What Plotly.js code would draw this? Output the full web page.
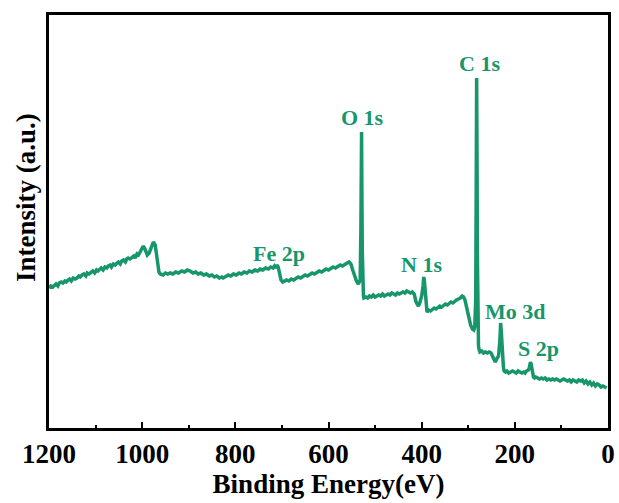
<!DOCTYPE html>
<html>
<head>
<meta charset="utf-8">
<script src="https://cdn.plot.ly/plotly-3.0.1.min.js"></script>
<style>
  html, body { margin: 0; padding: 0; background: #ffffff; }
  #chart { width: 619px; height: 503px; }
</style>
</head>
<body>
<div id="chart"></div>
<script>
// XPS survey spectrum: binding energy (eV) vs. intensity (a.u.)
const bindingEnergy = [
  1200, 1196, 1192, 1188, 1185, 1181, 1178, 1174, 1170, 1166, 1163, 1159, 1156, 1152, 1148, 1144,
  1140, 1136, 1133, 1129, 1125, 1121, 1118, 1114, 1110, 1106, 1102, 1098, 1095, 1091, 1088, 1084,
  1080, 1076, 1073, 1069, 1066, 1062, 1058, 1054, 1051, 1047, 1044, 1040, 1036, 1033, 1030, 1026,
  1022, 1018, 1015, 1011, 1008, 1005, 1001, 997.5, 994, 989, 985, 981, 976, 972, 968, 964, 961,
  955, 950, 945, 940, 934, 928, 922, 915, 909, 903, 897, 891, 885, 880, 874, 868, 862, 856, 850,
  845, 840, 834, 829, 826, 820, 815, 810, 804, 798, 792, 787, 781, 775, 770, 764, 758, 752, 747,
  741, 735, 729, 724, 719, 716, 713, 711, 708, 705, 702, 698, 694, 690, 685, 680, 675, 670, 665,
  660, 655, 650, 645, 640, 635, 630, 625, 620, 615, 610, 605, 600, 595, 590, 585, 580, 575, 570,
  565, 560, 556, 552, 548, 544, 540, 536, 532, 530.5, 529.5, 529, 528.5, 527.5, 526.5, 525,
  524, 520, 516, 512, 508, 504, 500, 496, 492, 488, 484, 480, 476, 472, 468, 464, 460, 456, 452,
  448, 444, 440, 436, 432, 428, 424, 420, 416, 412, 407, 404, 400, 397, 395.5, 394, 392, 390, 388.5,
  386.5, 385, 381, 377, 373, 369, 365, 361, 357, 353, 349, 345, 341, 337, 333, 329, 325, 321, 317,
  313, 310, 307, 304, 301, 298, 295, 291, 288, 286, 284, 283, 282.5, 282, 281.5, 281, 280.5, 279.5,
  278, 276.5, 275, 271, 267, 263, 259, 255, 251, 248, 245, 242, 239, 235, 232, 230.5, 229, 227.5,
  226, 224.5, 223, 220, 217, 213, 209, 205, 201, 197, 193, 189, 185, 181, 178, 175, 171, 169, 166.5,
  165, 163.5, 162, 160, 157.5, 155, 151, 147, 143, 139, 135, 131, 127, 123, 119, 115, 111, 107, 103,
  99, 95, 91, 87, 83, 79, 75, 71, 67, 63, 59, 55, 51, 47, 43, 39, 35, 31, 27, 23, 19, 15, 11, 7, 3, 0
];
const intensity = [
  142, 144, 143, 145, 146, 144, 147, 148, 147, 149, 148, 150, 151, 149, 152, 151,
  152, 154, 153, 155, 156, 154, 157, 156, 158, 159, 157, 160, 159, 161, 162, 160,
  163, 162, 164, 165, 163, 166, 165, 167, 168, 166, 169, 170, 168, 171, 172, 171,
  173, 174, 172, 176, 175, 178, 180, 184, 181, 175, 177, 183, 188, 185, 170, 158, 156,
  155, 157, 156, 157, 156, 158, 157, 159, 158, 160, 159, 157, 158, 156, 157, 155, 156, 154, 155,
  153, 154, 152, 153, 152, 154, 155, 154, 156, 155, 157, 156, 158, 157, 159, 158, 160, 159, 161,
  160, 162, 161, 163, 162, 164, 162, 165, 163, 158, 150, 148, 149, 150, 149, 151, 150, 152, 153,
  152, 154, 155, 154, 156, 157, 156, 158, 159, 158, 160, 161, 160, 162, 163, 162, 164, 165, 164,
  166, 167, 168, 166, 160, 154, 149, 146, 150, 200, 270, 298, 250, 180, 142, 134,
  132, 133, 132, 134, 133, 135, 133, 134, 135, 134, 136, 134, 135, 136, 135, 137, 136, 135, 137,
  136, 137, 138, 137, 139, 138, 137, 138, 136, 128, 124, 127, 134, 144, 153, 148, 132, 121, 118,
  119, 120, 119, 121, 122, 121, 123, 124, 123, 125, 126, 125, 127, 128, 127, 129, 130, 131, 132,
  134, 133, 130, 124, 117, 110, 105, 101, 100, 103, 130, 230, 310, 352, 330, 260, 180, 120,
  84, 80, 78, 79, 77, 78, 77, 78, 77, 74, 71, 68, 71, 74, 90, 107, 98, 82,
  70, 63, 59, 58, 59, 57, 58, 59, 58, 57, 59, 58, 57, 58, 57, 59, 60, 62, 68,
  66, 61, 56, 53, 52, 53, 52, 51, 52, 51, 52, 50, 51, 50, 51, 50, 51, 50, 49,
  50, 51, 50, 49, 50, 48, 50, 49, 48, 50, 49, 50, 47, 49, 46, 48, 45, 47, 44, 46, 45, 43, 44, 43, 42
];

// Peak labels: element line, binding energy and height for the label
const peakNames = ['C 1s', 'O 1s', 'N 1s', 'Fe 2p', 'Mo 3d', 'S 2p'];
const labelEnergy = [276.2, 528, 401.4, 706.2, 199.6, 150.2];
const labelHeight = [367, 313, 166, 177, 119, 82];

const lineColor = '#17966c';
const serif = 'Liberation Serif, Times New Roman, serif';

const trace = {
  x: bindingEnergy,
  y: intensity,
  type: 'scatter',
  mode: 'lines',
  line: { color: lineColor, width: 3.5 },
  hoverinfo: 'skip'
};

const annotations = peakNames.map((name, i) => ({
  x: labelEnergy[i],
  y: labelHeight[i],
  xref: 'x',
  yref: 'y',
  text: name,
  showarrow: false,
  xanchor: 'center',
  yanchor: 'middle',
  font: { family: serif, size: 22, color: lineColor, weight: 'bold' }
}));

// vertical axis title, placed to the left of the frame
annotations.push({
  xref: 'paper',
  yref: 'paper',
  x: -0.041,
  y: 0.557,
  xanchor: 'center',
  yanchor: 'middle',
  textangle: -90,
  text: 'Intensity (a.u.)',
  showarrow: false,
  font: { family: serif, size: 27, color: '#000000', weight: 'bold' }
});

const layout = {
  width: 619,
  height: 503,
  margin: { l: 49, r: 11, t: 15, b: 75 },
  paper_bgcolor: '#ffffff',
  plot_bgcolor: '#ffffff',
  showlegend: false,
  xaxis: {
    range: [1200, 0],
    dtick: 200,
    tick0: 0,
    ticks: 'inside',
    ticklen: 6,
    tickwidth: 2,
    tickcolor: '#000000',
    minor: { dtick: 100, ticks: 'inside', ticklen: 3, tickwidth: 2, tickcolor: '#000000' },
    showline: true,
    linewidth: 3,
    linecolor: '#000000',
    mirror: true,
    showgrid: false,
    zeroline: false,
    tickfont: { family: serif, size: 27, color: '#000000', weight: 'bold' },
    title: {
      text: 'Binding Energy(eV)',
      font: { family: serif, size: 27, color: '#000000', weight: 'bold' },
      standoff: 0
    }
  },
  yaxis: {
    range: [2, 415],
    showticklabels: false,
    ticks: '',
    showline: true,
    linewidth: 3,
    linecolor: '#000000',
    mirror: true,
    showgrid: false,
    zeroline: false
  },
  annotations: annotations
};

Plotly.newPlot('chart', [trace], layout, { displayModeBar: false, staticPlot: true });
</script>
</body>
</html>
